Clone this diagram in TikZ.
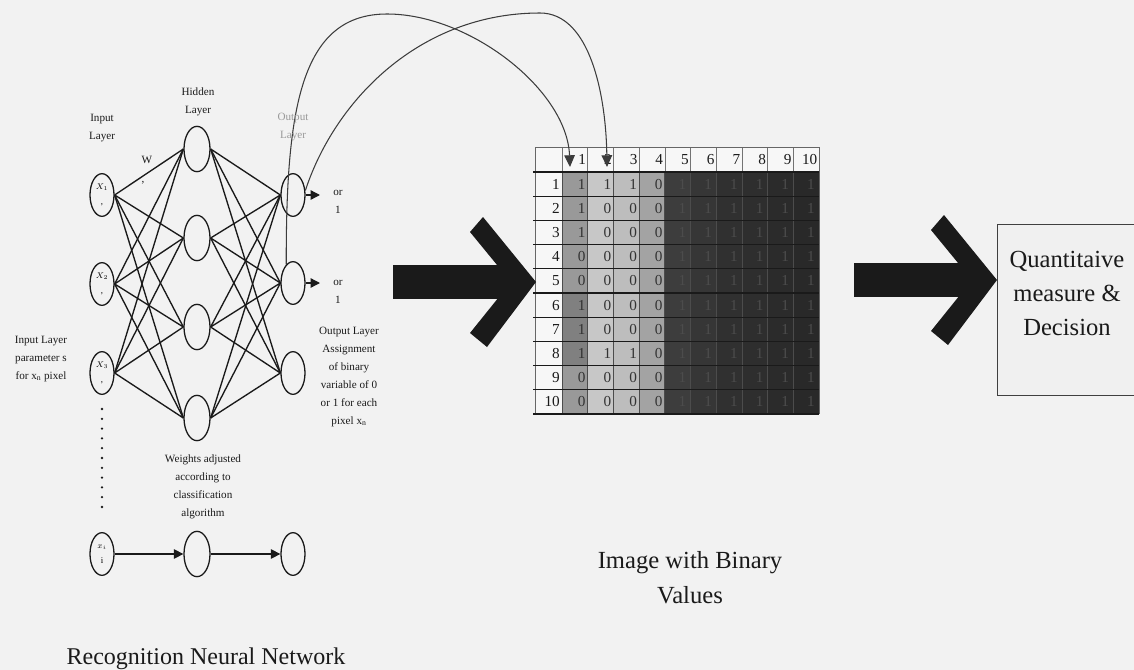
\documentclass[tikz,border=0pt]{standalone}
\usepackage{fontspec}
\setmainfont{Liberation Serif}
\usetikzlibrary{arrows.meta,shapes.geometric}
\definecolor{bg}{HTML}{F2F2F2}
\definecolor{ink}{HTML}{1A1A1A}

\tikzset{
  chevron/.pic={
    \fill[ink] (-143,-17) rectangle (-22,17);
    \fill[ink] (-66,-50) -- (-53,-65) -- (0,0) -- (-49,65) -- (-66,51) -- (-25,0) -- cycle;
  }
}

\begin{document}
\begin{tikzpicture}[x=0.03cm,y=-0.03cm,
  neuron/.style={draw=ink, ellipse, line width=1.1pt, minimum width=0.72cm,
    minimum height=1.28cm, inner sep=0pt, font=\fontsize{7.5}{13}\selectfont, align=center},
  hidn/.style={neuron, minimum width=0.78cm, minimum height=1.36cm},
  link/.style={draw=ink, line width=1.15pt},
  feed/.style={draw=ink, line width=1.15pt, -{Triangle[length=8pt,width=8pt]}},
  loopback/.style={draw=ink!85, line width=0.9pt, -{Triangle[length=10pt,width=9pt]}},
  note/.style={font=\fontsize{9.5}{15.3}\selectfont, align=center, inner sep=0pt, text=ink},
  caption/.style={font=\fontsize{21}{30}\selectfont, align=center, inner sep=0pt, text=ink},
  num/.style={font=\fontsize{13}{13}\selectfont, inner sep=0pt},
]
\useasboundingbox (0,0) rectangle (1134,670);
\fill[bg] (0,0) rectangle (1134,670);

% ---------- binary image table ----------
\fill[white!97!black] (535,147) rectangle (819,414);
% light columns (values 0/1)
\foreach \c/\g in {1/40,2/22,3/26,4/36}
  \fill[black!\g] ({562+(\c-1)*25.7},172) rectangle ({562+\c*25.7},414);
% darker cells in the first column
\foreach \r in {6,7,8}
  \fill[black!50] (562,{172+(\r-1)*24.2}) rectangle (587.7,{172+\r*24.2});
% dark columns
\foreach \c/\g in {5/76,6/79,7/81,8/82,9/83,10/84}
  \fill[black!\g] ({562+(\c-1)*25.7},172) rectangle ({562+\c*25.7},414);
% grid
\foreach \c in {0,...,10}
  \draw[black!70, line width=0.6pt] ({562+\c*25.7},172) -- ({562+\c*25.7},414);
\foreach \c in {0,...,10}
  \draw[black!55, line width=0.5pt] ({562+\c*25.7},147) -- ({562+\c*25.7},172);
\draw[black!60, line width=0.6pt] (535,147) -- (819,147);
\draw[black!60, line width=0.6pt] (535,147) -- (535,414);
\draw[black!60, line width=0.6pt] (819,147) -- (819,414);
\foreach \r in {0,...,10}
  \draw[ink, line width=1.1pt] (533,{172+\r*24.2}) -- (819,{172+\r*24.2});
\draw[ink, line width=1.6pt] (533,414) -- (819,414);
% header and row numbers
\foreach \c in {1,...,10}
  \node[num, anchor=east, text=ink] (h\c) at ({562+\c*25.7-1.5},159.5) {\c};
\foreach \r in {1,...,10}
  \node[num, anchor=east, text=ink] (r\r) at (560,{172+(\r-0.5)*24.2}) {\r};
% cell values
\foreach \r/\vals in {1/{1,1,1,0},2/{1,0,0,0},3/{1,0,0,0},4/{0,0,0,0},5/{0,0,0,0},
                      6/{1,0,0,0},7/{1,0,0,0},8/{1,1,1,0},9/{0,0,0,0},10/{0,0,0,0}}{
  \foreach \v [count=\c] in \vals
    \node[num, anchor=east, text=black!80] at ({562+\c*25.7-2},{172+(\r-0.5)*24.2}) {\v};
  \foreach \c in {5,...,10}
    \node[num, anchor=east, text=black!70] at ({562+\c*25.7-4},{172+(\r-0.5)*24.2}) {1};
}
\coordinate (ct1) at (570,167);
\coordinate (ct2) at (607,167);

% ---------- big arrows ----------
\pic at (536,282) {chevron};
\pic at (997,280) {chevron};

% ---------- decision box ----------
\node[draw=black!75, line width=0.8pt, fill=black!6, minimum width=4.29cm,
      minimum height=5.13cm, inner sep=0pt] (qbox) at (1068.5,309.5) {};
\node[font=\fontsize{21}{29}\selectfont, align=center, inner sep=0pt, text=ink]
      (qtext) at (1067,293) {Quantitaive\\measure \&\\Decision};

% ---------- neural network ----------
\node[neuron] (in1) at (102,195) {$X_{1}$\\,};
\node[neuron] (in2) at (102,284) {$X_{2}$\\,};
\node[neuron] (in3) at (102,373) {$X_{3}$\\,};
\node[neuron] (inB) at (102,554) {$x_{i}$\\i};
\node[hidn] (hid1) at (197,149) {};
\node[hidn] (hid2) at (197,238) {};
\node[hidn] (hid3) at (197,327) {};
\node[hidn] (hid4) at (197,418) {};
\node[hidn] (hidB) at (197,554) {};
\node[neuron] (out1) at (293,195) {};
\node[neuron] (out2) at (293,283) {};
\node[neuron] (out3) at (293,373) {};
\node[neuron] (outB) at (293,554) {};

\foreach \i in {1,2,3}
  \foreach \h in {1,2,3,4}
    \draw[link] (in\i.east) -- (hid\h.west);
\foreach \h in {1,2,3,4}
  \foreach \o in {1,2,3}
    \draw[link] (hid\h.east) -- (out\o.west);

\draw[feed] (inB) -- (hidB);
\draw[feed] (hidB) -- (outB);

\foreach \k in {0,...,10}
  \fill[ink] (102,{409+\k*9.8}) circle (1.1pt);

% outputs 0 or 1
\coordinate (o1tip) at (320,195);
\coordinate (o2tip) at (320,283);
\draw[feed] (out1.east) -- (o1tip);
\draw[feed] (out2.east) -- (o2tip);
\node[note] (or1) at (338,202) {or\\1};
\node[note] (or2) at (338,292) {or\\1};

% feedback of outputs to the pixel grid
\draw[loopback] (out2.110) .. controls (286,110) and (300,14) .. (387,14)
                 .. controls (470,14) and (567,90) .. (ct1);
\draw[loopback] (out1.20) .. controls (335,100) and (420,13) .. (540,13)
                 .. controls (590,13) and (606,95) .. (ct2);

% labels
\node[note] (lin) at (102,128) {Input\\Layer};
\node[note] (lhid) at (198,102) {Hidden\\Layer};
\node[note, text=black!40] (lout) at (293,127) {Output\\Layer};
\node[note] (lw) at (147,160) {W};
\node[note] (lwi) at (143,183) {,};
\node[note] (lpar) at (41,359) {Input Layer\\parameter s\\for x\textsubscript{n} pixel};
\node[note] (lassign) at (349,377) {Output Layer\\Assignment\\of binary\\variable of 0\\or 1 for each\\pixel x\textsubscript{n}};
\node[note] (lweights) at (203,487) {Weights adjusted\\according to\\classification\\algorithm};

\node[caption] (limg) at (690,578) {Image with Binary\\Values};
\node[font=\fontsize{20.5}{24}\selectfont, inner sep=0pt, text=ink] (lnet) at (206,659) {Recognition Neural Network};
\end{tikzpicture}
\end{document}
